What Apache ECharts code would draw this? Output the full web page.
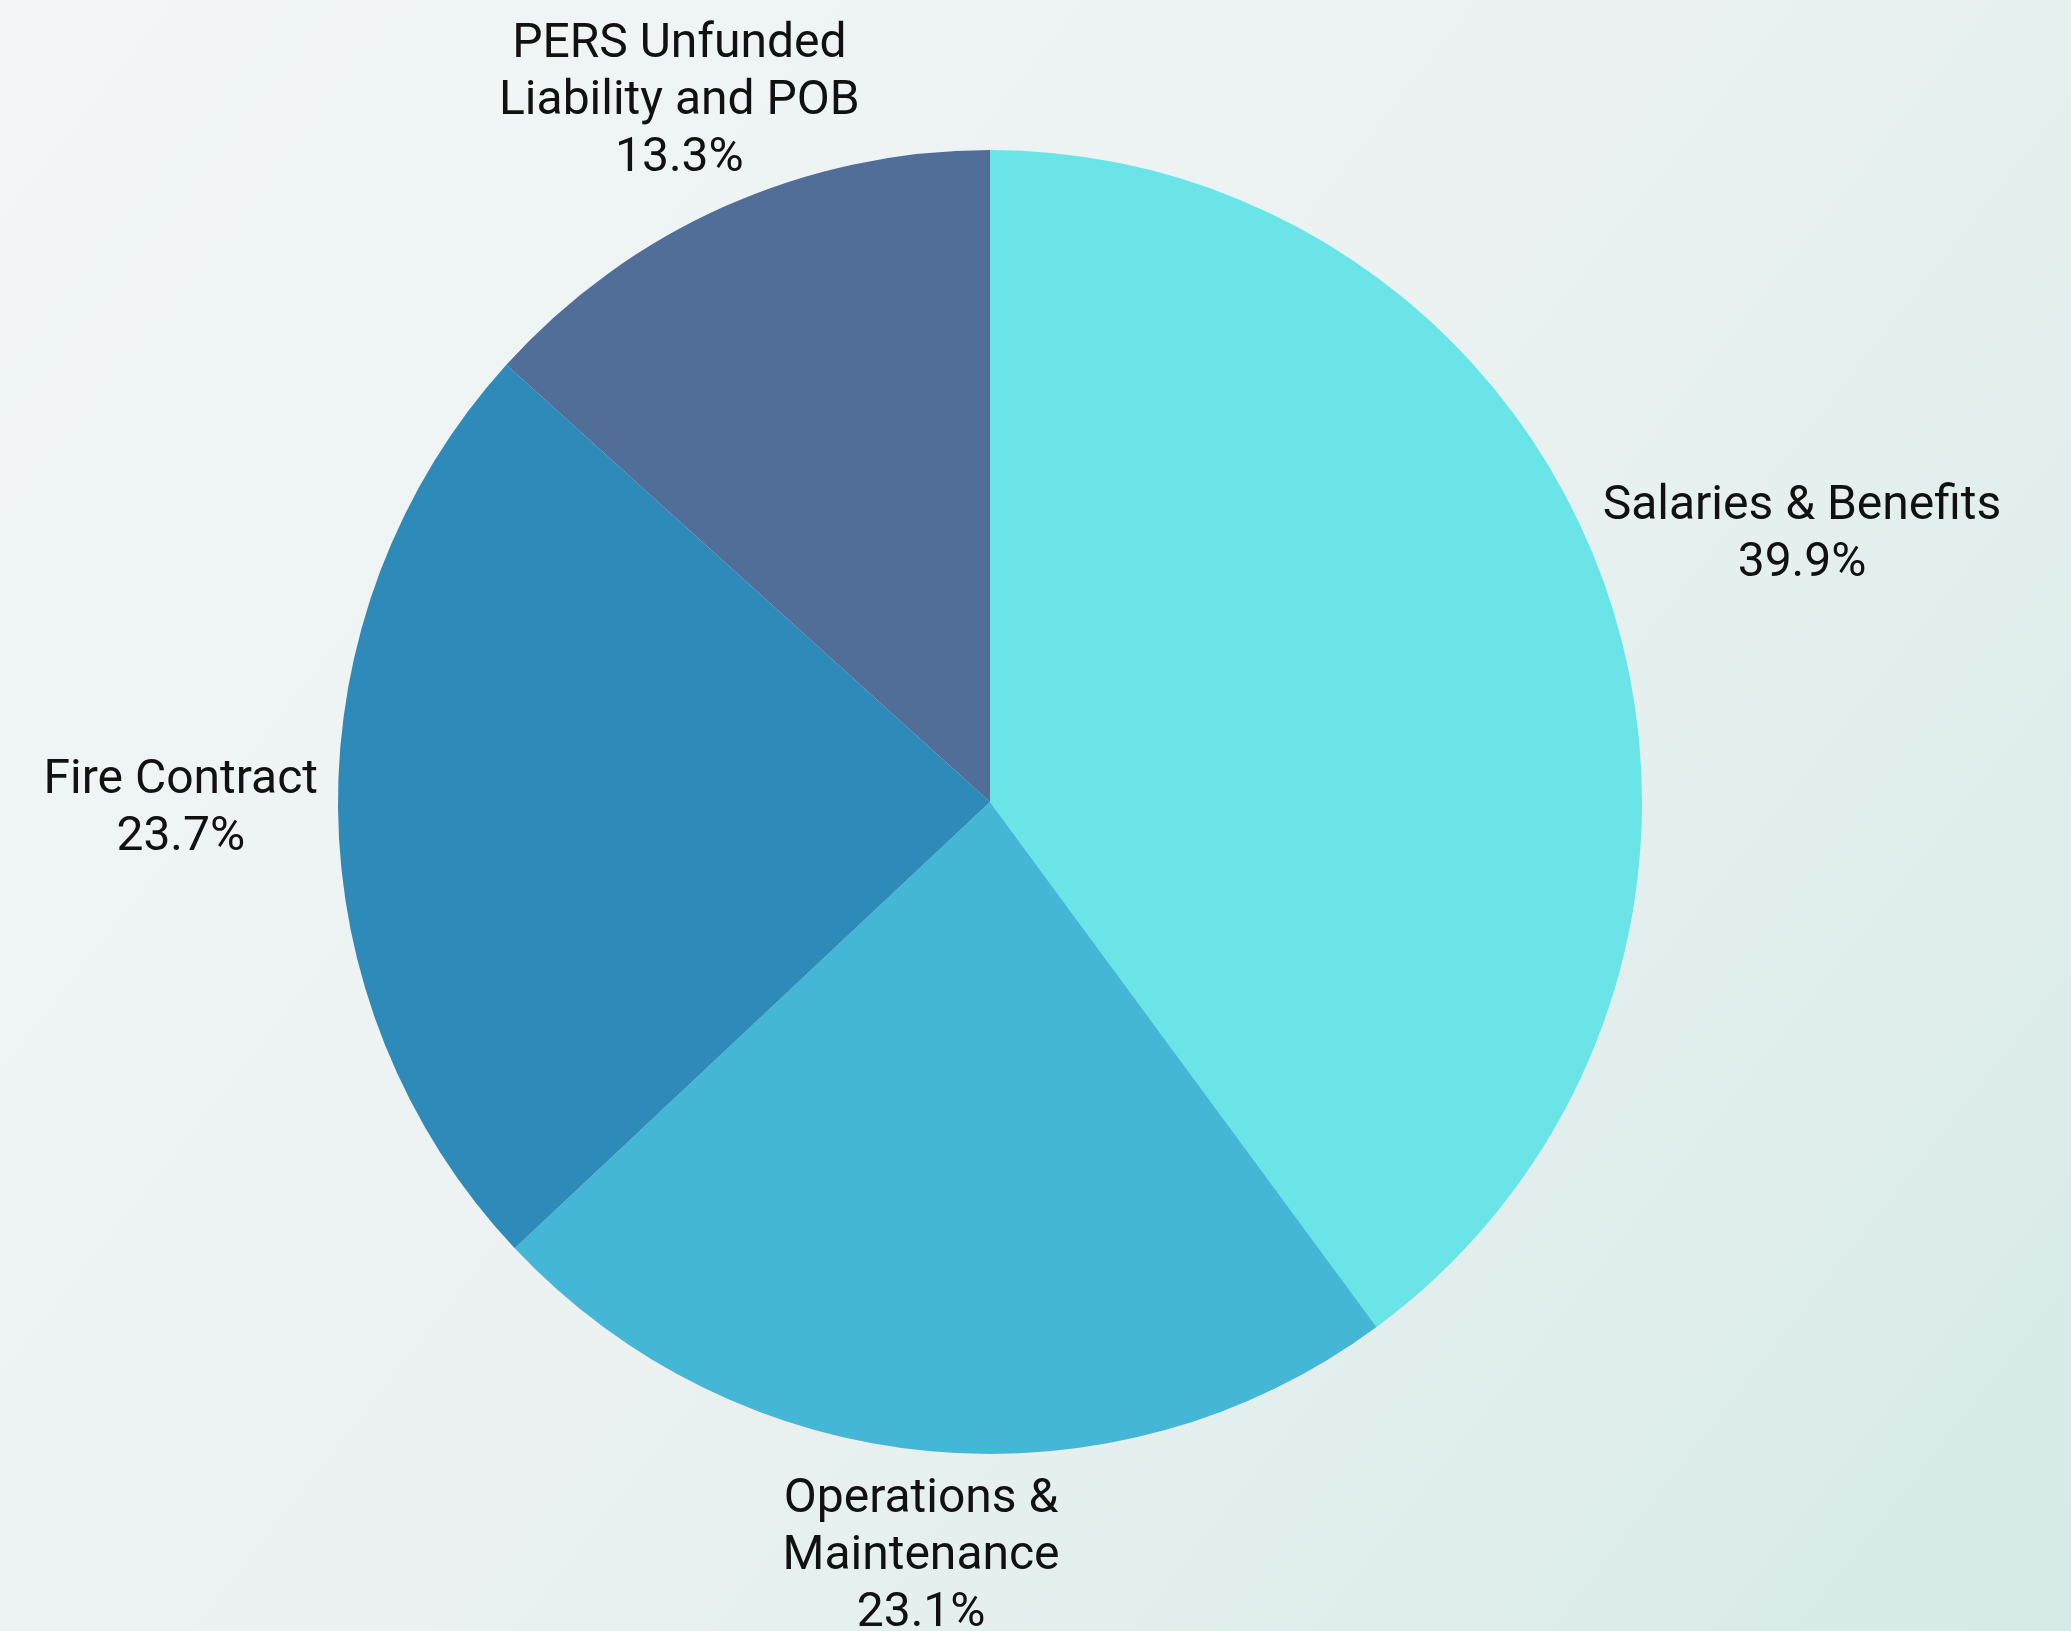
<!DOCTYPE html>
<html>
<head>
<meta charset="utf-8">
<script src="https://cdn.jsdelivr.net/npm/echarts@6/dist/echarts.min.js"></script>
<style>
  html, body { margin: 0; padding: 0; }
  #chart { width: 2071px; height: 1631px; }
</style>
</head>
<body>
<div id="chart"></div>
<script>
// data
const categories = ['Salaries & Benefits', 'Operations &\nMaintenance', 'Fire Contract', 'PERS Unfunded\nLiability and POB'];
const values = [39.9, 23.1, 23.7, 13.3];
const colors = ['#6be4e7', '#43b7d5', '#2e8bb9', '#506e98'];

const CX = 990, CY = 802, RADIUS = 652, GAP = 20;

// mid angle of each slice, clockwise from 12 o'clock
const total = values.reduce((a, b) => a + b, 0);
let acc = 0;
const midAngles = values.map((v) => {
  const m = (acc + v / 2) / total * Math.PI * 2;
  acc += v;
  return m;
});

const chart = echarts.init(document.getElementById('chart'));

chart.setOption({
  backgroundColor: {
    type: 'linear', x: 0, y: 0, x2: 1, y2: 1,
    colorStops: [
      { offset: 0, color: '#f2f6f6' },
      { offset: 0.5, color: '#ebf2f1' },
      { offset: 1, color: '#d6eae8' }
    ]
  },
  animation: false,
  series: [
    {
      type: 'pie',
      center: [CX, CY],
      radius: RADIUS,
      startAngle: 90,
      clockwise: true,
      avoidLabelOverlap: false,
      data: categories.map((name, i) => ({
        name: name,
        value: values[i],
        itemStyle: { color: colors[i] }
      })),
      itemStyle: { borderWidth: 0 },
      label: {
        show: true,
        position: 'outside',
        fontFamily: 'Roboto',
        fontSize: 48,
        lineHeight: 57,
        color: '#111',
        formatter: (p) => p.name + '\n' + p.value.toFixed(1) + '%'
      },
      labelLine: { show: false },
      labelLayout: function (params) {
        const mid = midAngles[params.dataIndex];
        const ux = Math.sin(mid), uy = -Math.cos(mid);
        const w = params.labelRect.width, h = params.labelRect.height;
        const ex = Math.abs(ux) > 1e-6 ? w / 2 / Math.abs(ux) : Infinity;
        const ey = Math.abs(uy) > 1e-6 ? h / 2 / Math.abs(uy) : Infinity;
        const d = RADIUS + GAP + Math.min(ex, ey);
        return {
          x: CX + ux * d,
          y: CY + uy * d,
          align: 'center',
          verticalAlign: 'middle'
        };
      },
      emphasis: { disabled: true }
    }
  ]
});
</script>
</body>
</html>
